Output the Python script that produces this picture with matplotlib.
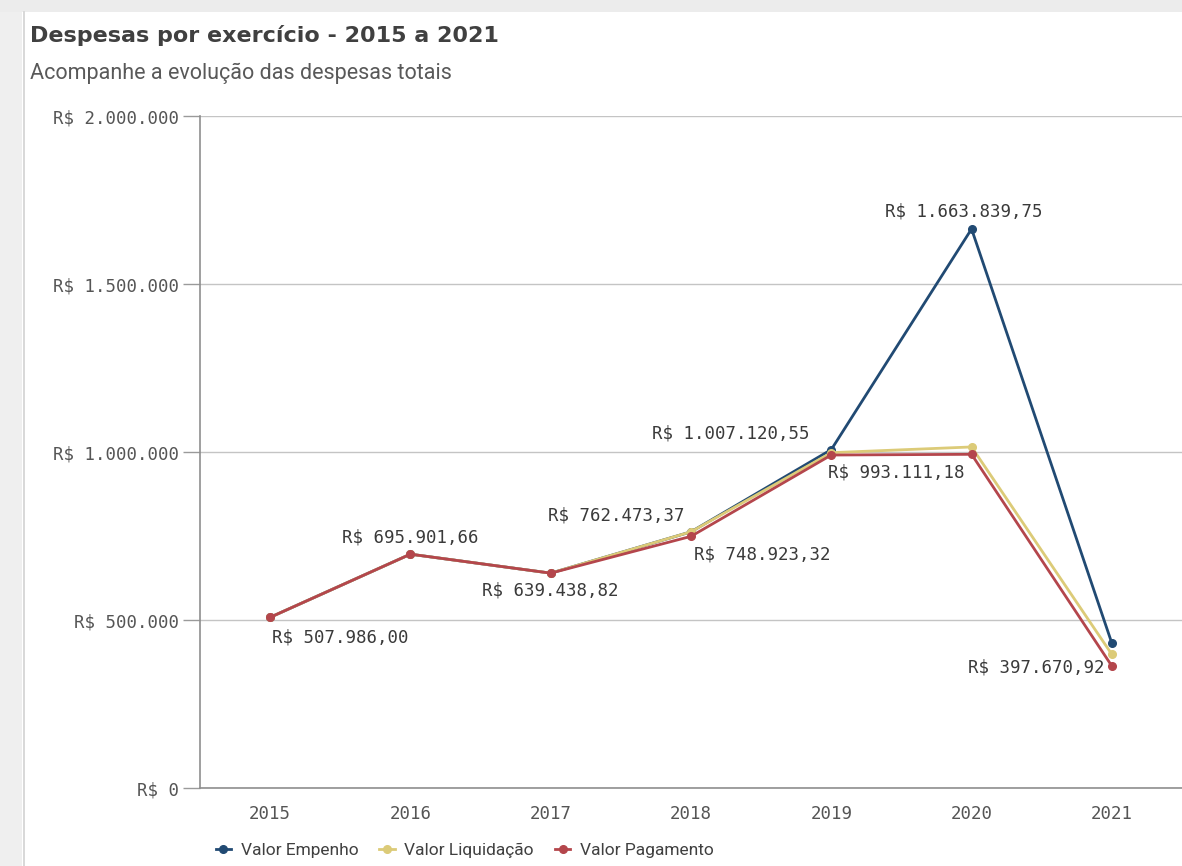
import matplotlib.pyplot as plt
from matplotlib.lines import Line2D
from matplotlib.patches import Rectangle
from matplotlib.ticker import FuncFormatter

# Dados das despesas por exercício
anos = ['2015', '2016', '2017', '2018', '2019', '2020', '2021']
valor_empenho = [507986.00, 695901.66, 639438.82, 762473.37, 1007120.55, 1663839.75, 431000.00]
valor_liquidacao = [507986.00, 695901.66, 639438.82, 762473.37, 998000.00, 1015000.00, 397670.92]
valor_pagamento = [507986.00, 695901.66, 639438.82, 748923.32, 991000.00, 993111.18, 363000.00]

nomes_series = ['Valor Empenho', 'Valor Liquidação', 'Valor Pagamento']
cores = ['#214a73', '#dccb78', '#b4464c']

# Rótulos: (série, índice do ano, deslocamento x/y em pixels, alinhamento)
rotulos = [
    (2, 0, 2, -20, 'left'),
    (2, 1, 0, 17, 'center'),
    (2, 2, 0, -17, 'center'),
    (0, 3, -6, 16, 'right'),
    (2, 3, 3, -18, 'left'),
    (0, 4, -22, 16, 'right'),
    (0, 5, -8, 17, 'center'),
    (2, 5, -7, -18, 'right'),
    (1, 6, -7, -13, 'right'),
]

FONTE_NUM = 'DejaVu Sans Mono'
CINZA = '#555555'


# Formata valores no padrão brasileiro (1.234.567,89)
def formatar_reais(v, casas=2):
    s = f'{v:,.{casas}f}'
    s = s.replace(',', '#').replace('.', ',').replace('#', '.')
    return 'R$ ' + s


def config_grafica():
    fig = plt.figure(figsize=(11.82, 8.66), dpi=100)
    fig.patch.set_facecolor('white')

    # faixas cinzas da página ao redor do painel
    fig.patches.append(Rectangle((0, 0), 22 / 1182, 1, transform=fig.transFigure,
                                 facecolor='#efefef', edgecolor='none', zorder=0))
    fig.patches.append(Rectangle((0, 1 - 12 / 866), 1, 12 / 866, transform=fig.transFigure,
                                 facecolor='#ececec', edgecolor='none', zorder=0))
    fig.lines.append(Line2D([24 / 1182, 24 / 1182], [0, 1 - 12 / 866], transform=fig.transFigure,
                            color='#d2d2d2', lw=1.2))

    fig.text(30 / 1182, 1 - 35 / 866, 'Despesas por exercício - 2015 a 2021',
             fontsize=16, fontweight='bold', color='#404040', va='center', ha='left',
             family='DejaVu Sans')
    fig.text(30 / 1182, 1 - 73 / 866, 'Acompanhe a evolução das despesas totais',
             fontsize=15.5, color='#595959', va='center', ha='left', family='Roboto')

    ax = fig.add_axes([200 / 1182, 1 - 788 / 866, 982 / 1182, 672 / 866])
    return fig, ax


def desenhar(ax):
    series = [valor_empenho, valor_liquidacao, valor_pagamento]
    x = list(range(len(anos)))
    for valores, nome, cor in zip(series, nomes_series, cores):
        ax.plot(x, valores, color=cor, lw=2.0, marker='o', markersize=5.5,
                label=nome, solid_joinstyle='round')

    for serie, i, dx, dy, ha in rotulos:
        v = series[serie][i]
        ax.annotate(formatar_reais(v), (x[i], v), xytext=(dx, dy),
                    textcoords='offset pixels', ha=ha, va='center',
                    fontsize=12.5, color='#3a3a3a', family=FONTE_NUM)

    ax.set_xlim(-0.5, 6.5)
    ax.set_ylim(0, 2000000)
    ax.set_xticks(x)
    ax.set_xticklabels(anos)
    ax.set_yticks([0, 500000, 1000000, 1500000, 2000000])
    ax.yaxis.set_major_formatter(FuncFormatter(lambda v, p: formatar_reais(v, 0)))
    for t in ax.get_xticklabels() + ax.get_yticklabels():
        t.set_fontfamily(FONTE_NUM)
        t.set_fontsize(12.5)
        t.set_color(CINZA)

    ax.tick_params(axis='x', length=0, pad=12)
    ax.tick_params(axis='y', length=12, width=1, color='#9a9a9a', pad=3)
    ax.grid(axis='y', color='#c4c4c4', lw=1)
    ax.set_axisbelow(True)
    for lado in ['top', 'right']:
        ax.spines[lado].set_visible(False)
    for lado in ['left', 'bottom']:
        ax.spines[lado].set_color('#8f8f8f')
        ax.spines[lado].set_linewidth(1.2)

    ax.legend(loc='center left', bbox_to_anchor=(0.0, -0.093), ncol=3, frameon=False,
              handlelength=0.9, handletextpad=0.55, columnspacing=1.2,
              prop={'family': 'Roboto', 'size': 12.5}, labelcolor='#404040')


fig, ax = config_grafica()
desenhar(ax)
fig.savefig('out.png', dpi=100)
